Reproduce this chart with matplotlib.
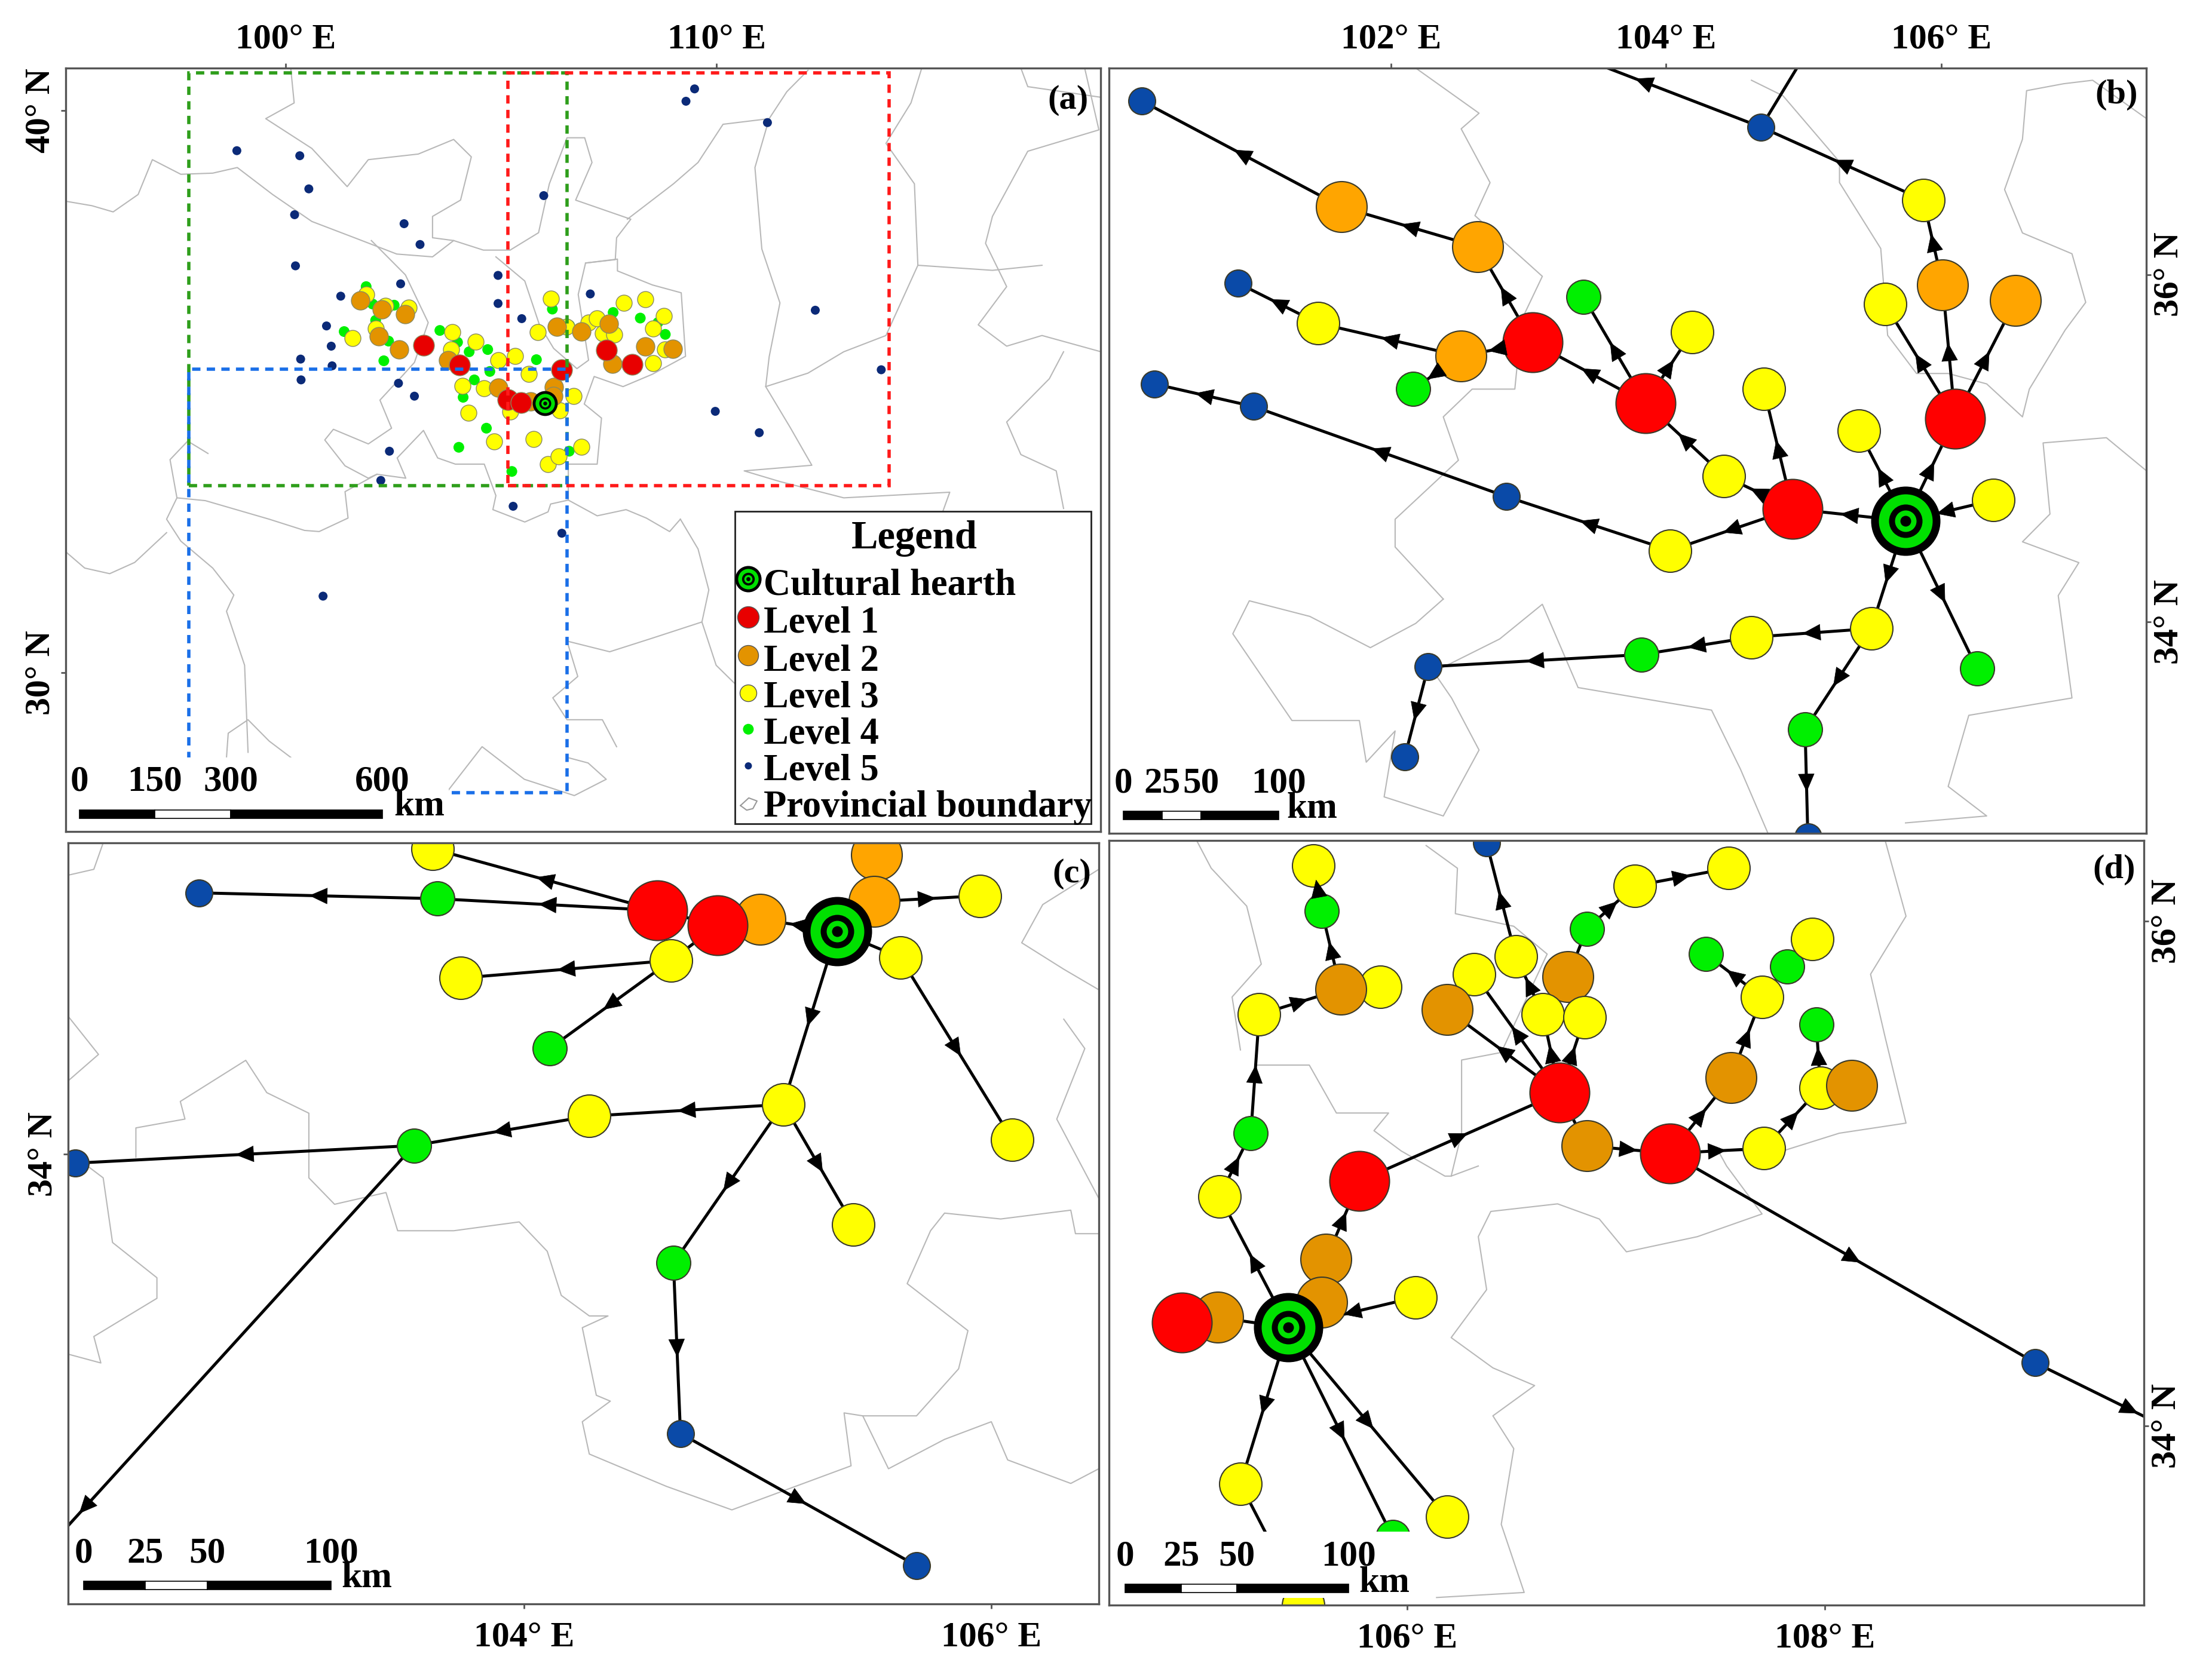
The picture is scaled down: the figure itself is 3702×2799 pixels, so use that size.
import matplotlib
matplotlib.use("Agg")
import matplotlib.pyplot as plt
import numpy as np
from matplotlib.patches import Rectangle, FancyArrowPatch
from matplotlib.transforms import IdentityTransform

plt.rcParams['font.family'] = ['Liberation Serif', 'DejaVu Serif']
plt.rcParams['font.weight'] = 'bold'

W, H = 3702, 2799

# ---- panel (a) sites, by level
a_hearth = (106.02, 34.79)
a_l1_lon = [103.20, 104.04, 106.40, 105.16, 105.47, 107.45, 108.04]
a_l1_lat = [35.83, 35.48, 35.39, 34.86, 34.81, 35.74, 35.49]
a_l2_lon = [101.73, 102.23, 102.77, 102.16, 102.64, 103.77, 104.93, 106.22, 106.21, 105.68, 106.29, 106.86, 107.50, 108.35, 107.59, 108.99]
a_l2_lat = [36.62, 36.46, 36.38, 35.99, 35.75, 35.56, 35.07, 35.08, 34.92, 34.83, 36.16, 36.07, 36.21, 35.80, 35.50, 35.76]
a_l3_lon = [101.87, 102.32, 102.86, 102.09, 101.56, 103.87, 103.84, 104.41, 104.93, 105.33, 105.65, 104.10, 104.61, 104.24, 105.21, 106.36, 106.69, 104.84, 105.76, 106.09, 106.34, 106.86, 106.15, 105.85, 106.52, 107.03, 107.22, 107.36, 107.63, 107.85, 108.35, 108.78, 108.52, 108.81, 108.53]
a_l3_lat = [36.73, 36.53, 36.50, 36.12, 35.95, 36.06, 35.75, 35.89, 35.56, 35.63, 35.32, 35.10, 35.06, 34.62, 34.65, 34.67, 34.92, 34.11, 34.16, 33.71, 33.85, 34.02, 36.66, 36.06, 36.16, 36.23, 36.30, 36.04, 36.02, 36.58, 36.65, 36.35, 36.12, 35.75, 35.51]
a_l4_lon = [101.87, 102.02, 102.52, 102.09, 101.36, 102.39, 102.28, 103.58, 103.99, 104.26, 104.69, 105.82, 104.74, 104.38, 104.12, 104.66, 104.02, 105.25, 106.58, 106.19, 106.59, 107.60, 108.23, 108.64, 108.81]
a_l4_lat = [36.87, 36.56, 36.54, 36.27, 36.07, 35.90, 35.55, 36.09, 35.88, 35.71, 35.75, 35.57, 35.36, 35.21, 34.90, 34.35, 34.01, 33.58, 33.94, 36.47, 36.18, 36.41, 36.31, 36.23, 36.02]
a_l5_lon = [103.12, 102.67, 101.28, 100.95, 101.06, 100.35, 101.08, 100.36, 102.62, 102.99, 104.93, 104.93, 105.48, 107.07, 109.97, 102.41, 102.21, 105.28, 106.41, 109.49, 109.29, 111.18, 105.99, 98.87, 100.33, 100.54, 100.21, 102.75, 100.23, 112.29, 113.82, 110.99, 100.87]
a_l5_lat = [37.62, 36.92, 36.70, 36.17, 35.81, 35.58, 35.46, 35.21, 35.15, 34.92, 37.07, 36.57, 36.30, 36.74, 34.65, 33.94, 33.42, 32.96, 32.48, 40.39, 40.17, 39.79, 38.49, 39.29, 39.20, 38.61, 38.15, 37.99, 37.24, 36.45, 35.39, 34.27, 31.36]

# extents of panels b, c, d drawn on panel (a): lon0, lon1, lat0, lat1
extent_green = (97.75, 106.53, 33.33, 40.67)
extent_red = (105.16, 114.00, 33.33, 40.67)
extent_blue = (97.75, 106.53, 27.86, 35.40)

# ---- panel (b) network; level 0 is the hearth
b_lon = [104.42, 104.92, 104.03, 106.10, 105.40, 104.71, 103.85, 103.03, 106.54, 106.01, 102.51, 102.63, 101.64, 106.38, 104.19, 105.59, 105.87, 101.47, 105.49, 104.62, 103.40, 102.16, 106.26, 103.82, 105.01, 100.19, 104.69, 100.89, 100.28, 101.00, 102.84, 102.27, 102.10, 105.03, 102.79, 105.21, 105.74]
b_lat = [34.84, 34.65, 34.41, 35.17, 35.10, 35.34, 35.26, 35.61, 35.85, 35.94, 35.53, 36.16, 36.39, 34.70, 35.67, 35.83, 36.43, 35.72, 33.96, 33.91, 35.87, 35.34, 33.73, 33.81, 33.38, 37.00, 36.85, 35.95, 35.37, 35.24, 34.72, 33.74, 33.22, 32.76, 37.43, 37.53, 34.58]
b_level = [3, 1, 3, 1, 3, 3, 1, 1, 2, 2, 2, 2, 2, 3, 3, 3, 3, 3, 3, 3, 4, 4, 4, 4, 4, 5, 5, 5, 5, 5, 5, 5, 5, 5, 5, 5, 0]
b_edges = [(36, 1), (36, 4), (36, 3), (13, 36, 0.55), (36, 18), (36, 22), (1, 5), (1, 0), (1, 2), (0, 6), (3, 15), (3, 9), (3, 8), (9, 16), (16, 26), (26, 34, 0.45), (6, 20), (6, 14), (6, 7), (7, 10), (7, 11), (11, 12), (12, 25), (10, 17), (17, 27), (10, 21, 0.55), (2, 30), (30, 29), (29, 28), (18, 19), (19, 23), (23, 31), (31, 32), (18, 24), (24, 33), (26, 35, None)]

# ---- panel (c) network
c_lon = [105.51, 105.50, 105.01, 104.57, 104.83, 104.63, 103.61, 105.95, 105.61, 103.73, 105.11, 104.28, 106.09, 105.41, 103.63, 104.11, 103.53, 104.64, 102.61, 102.08, 104.67, 105.68, 101.94, 105.34]
c_lat = [35.02, 34.86, 34.80, 34.83, 34.78, 34.66, 35.04, 34.88, 34.67, 34.60, 34.17, 34.13, 34.05, 33.76, 34.87, 34.36, 34.03, 33.63, 34.89, 33.97, 33.05, 32.60, 32.64, 34.76]
c_level = [2, 2, 2, 1, 1, 3, 3, 3, 3, 3, 3, 3, 3, 3, 4, 4, 4, 4, 5, 5, 5, 5, 5, 0]
c_edges = [(3, 6), (3, 14), (14, 18), (23, 2, 0.5), (2, 4, None), (4, 3, None), (5, 9), (5, 15), (4, 5, None), (23, 1, None), (1, 7), (1, 0, None), (23, 8, None), (8, 12), (23, 10), (10, 11), (11, 16), (16, 19), (16, 22, 0.885), (10, 13), (10, 17), (17, 20), (20, 21)]

# ---- panel (d) network
d_lon = [105.50, 105.87, 105.68, 105.09, 104.92, 105.61, 105.59, 105.77, 106.77, 106.52, 106.32, 106.19, 106.65, 106.85, 106.86, 106.73, 107.26, 107.55, 107.98, 108.13, 107.82, 105.55, 105.29, 105.10, 106.04, 105.20, 106.19, 107.09, 107.54, 107.71, 107.70, 107.94, 105.59, 105.25, 106.86, 107.43, 107.96, 105.93, 106.38, 109.01, 109.82, 105.43]
d_lat = [33.29, 35.74, 35.73, 34.43, 34.41, 34.66, 34.49, 34.97, 35.78, 35.86, 35.79, 35.65, 35.63, 35.62, 35.11, 35.32, 35.08, 35.38, 35.34, 35.35, 35.82, 36.22, 35.63, 34.91, 34.51, 33.77, 33.64, 36.14, 36.21, 35.10, 35.70, 35.93, 36.04, 35.16, 35.97, 35.87, 35.59, 33.56, 36.31, 34.25, 33.92, 34.39]
d_level = [3, 3, 2, 2, 1, 2, 2, 1, 2, 3, 3, 2, 3, 3, 2, 1, 1, 2, 3, 2, 4, 3, 3, 3, 3, 3, 3, 3, 3, 3, 3, 3, 4, 4, 4, 4, 4, 4, 5, 5, 5, 0]
d_edges = [(41, 23), (23, 33), (33, 22), (22, 2), (2, 32), (32, 21), (41, 6, None), (6, 5, None), (5, 7), (7, 15), (15, 11), (15, 10), (15, 12), (15, 13), (12, 9), (9, 38), (13, 8, None), (8, 34, None), (34, 27), (27, 28), (15, 14, None), (14, 16), (16, 29), (16, 17), (17, 30), (30, 35), (30, 20, None), (20, 31, None), (29, 18), (18, 36), (16, 39), (39, 40, 0.56), (24, 41), (41, 25), (41, 37), (41, 26), (25, 0), (41, 3, None), (3, 4, None)]

# ---- provincial boundaries, (lon, lat) polylines traced per panel
a_bounds = [
    [(94.90, 38.39), (95.51, 38.31), (96.00, 38.20), (96.58, 38.51), (96.91, 39.13), (97.57, 38.87), (98.31, 38.89), (98.88, 38.99), (99.70, 38.51), (100.61, 38.03), (101.60, 37.74), (102.58, 37.45), (103.41, 37.40), (103.90, 37.69), (104.59, 37.52), (105.21, 37.52), (105.87, 37.83), (106.12, 38.70), (106.53, 39.52), (106.94, 39.52), (107.11, 39.08), (106.73, 38.41), (108.01, 38.07), (107.68, 37.74), (107.65, 37.35), (106.96, 37.29)],
    [(100.12, 40.76), (100.20, 40.14), (99.54, 39.86), (100.61, 39.33), (101.43, 38.65), (101.92, 39.13), (103.08, 39.23), (103.90, 39.49), (104.31, 39.18), (104.06, 38.41), (103.41, 38.12), (103.41, 37.74), (103.90, 37.69)],
    [(101.99, 37.69), (102.78, 37.08), (103.31, 36.23), (102.99, 35.52), (102.66, 35.24), (102.19, 34.85), (102.46, 34.35), (101.92, 34.07), (101.11, 34.33), (100.91, 34.14), (101.38, 33.68), (101.92, 33.46), (102.12, 33.53), (102.79, 33.46), (102.59, 33.82), (103.20, 34.31), (103.53, 33.82), (103.94, 33.71), (104.61, 33.71), (104.88, 33.15), (104.81, 32.90), (105.55, 32.68), (106.09, 32.86), (106.15, 33.00), (106.56, 33.07), (107.23, 32.79), (107.90, 32.90), (108.37, 32.75), (108.91, 32.51), (109.16, 32.73)],
    [(104.88, 37.40), (105.55, 36.97), (105.89, 36.19), (106.22, 35.77), (106.76, 35.41), (107.03, 35.56), (106.79, 36.73), (106.96, 37.29), (107.70, 37.36), (107.70, 37.15), (108.51, 36.90), (109.18, 36.76), (109.28, 35.63), (108.51, 35.31), (107.83, 35.09), (107.16, 35.27), (106.93, 34.78), (107.33, 34.53), (107.23, 33.71), (106.56, 33.71), (106.56, 33.07)],
    [(102.12, 33.53), (101.38, 33.22), (101.45, 32.75), (100.78, 32.51), (100.44, 32.53), (99.62, 32.73), (98.14, 33.06), (97.48, 33.11), (97.32, 33.79), (97.73, 34.12), (98.20, 33.90)],
    [(97.48, 33.11), (97.24, 32.73), (97.57, 32.34), (98.31, 31.86), (98.80, 31.38), (98.63, 31.09), (99.05, 30.13), (99.13, 28.58)],
    [(94.90, 32.15), (95.34, 31.86), (95.92, 31.76), (96.50, 31.96), (97.24, 32.49)],
    [(107.93, 38.07), (109.00, 38.70), (109.57, 39.08), (110.15, 39.76), (111.22, 39.86), (111.63, 40.34), (112.12, 40.72)],
    [(111.22, 39.86), (110.89, 38.99), (111.05, 37.54), (111.47, 36.58), (111.22, 35.62), (111.14, 35.09), (112.12, 35.33), (112.95, 35.71), (113.93, 36.00), (114.67, 37.25), (114.59, 38.70), (113.93, 39.42), (114.51, 40.14), (114.76, 40.76)],
    [(111.14, 35.09), (111.71, 34.36), (112.21, 33.69), (110.64, 33.59), (111.47, 33.40), (112.95, 33.11), (115.41, 33.21), (115.25, 32.87)],
    [(114.67, 37.25), (116.40, 37.16), (117.55, 37.25)],
    [(118.54, 40.76), (118.87, 39.66), (117.22, 39.28), (116.40, 38.12), (116.24, 37.64), (116.73, 36.87), (116.07, 36.19), (116.73, 35.81), (117.55, 36.00), (118.92, 35.71)],
    [(117.06, 40.76), (117.22, 40.43), (118.92, 40.24)],
    [(118.05, 35.71), (117.72, 35.23), (116.73, 34.46), (117.06, 33.88), (117.88, 33.59), (118.05, 32.92)],
    [(106.53, 30.56), (107.52, 30.37), (108.50, 30.61), (109.66, 30.90), (109.99, 30.13), (110.64, 29.64)],
    [(109.66, 30.90), (109.82, 31.47), (109.57, 32.20), (109.16, 32.73)],
    [(106.53, 30.56), (106.78, 29.93), (106.20, 29.55), (106.53, 29.16), (107.35, 29.16), (107.68, 28.68)],
    [(103.73, 27.86), (104.56, 28.68), (105.54, 28.10), (106.70, 27.81), (107.44, 28.10), (107.02, 28.39), (106.53, 28.49)],
    [(98.63, 28.49), (98.67, 28.92), (99.13, 29.16), (99.62, 28.78), (100.12, 28.49)],
]

b_bounds = [
    [(102.18, 37.19), (102.64, 36.93), (102.51, 36.84), (102.72, 36.53), (102.61, 36.34), (103.10, 35.99), (102.95, 35.74), (102.90, 35.34), (102.59, 35.34), (102.38, 35.18), (102.49, 34.93), (102.03, 34.59), (102.03, 34.43), (102.38, 34.13)],
    [(102.38, 34.13), (102.18, 33.99), (101.85, 33.85), (101.41, 34.03), (100.97, 34.12), (100.85, 33.93), (101.28, 33.43), (101.77, 33.43), (101.82, 33.19), (102.03, 33.37), (101.95, 32.99), (102.38, 32.88), (102.64, 33.26), (102.44, 33.56), (102.31, 33.71), (102.79, 33.90), (103.10, 34.10), (103.36, 33.62), (104.03, 33.53), (104.33, 33.49), (104.54, 33.15), (104.74, 32.78)],
    [(104.62, 37.12), (104.85, 37.03), (105.26, 36.65), (105.26, 36.53), (105.56, 36.15), (105.61, 35.65), (105.82, 35.43), (106.05, 35.43), (106.33, 35.37), (106.59, 35.18), (106.64, 35.34), (106.90, 35.68), (107.05, 35.84), (106.95, 36.12), (106.59, 36.24), (106.46, 36.49), (106.59, 36.78), (106.62, 37.06), (106.89, 37.10), (107.10, 37.12), (107.49, 36.90)],
    [(107.49, 34.87), (107.20, 35.06), (106.74, 35.03), (106.79, 34.62), (106.59, 34.46), (107.00, 34.34), (106.85, 34.15), (106.95, 33.56), (106.20, 33.46), (106.05, 33.05), (106.33, 32.88), (105.74, 32.84)],
]

c_bounds = [
    [(102.20, 35.06), (102.16, 34.97), (102.05, 34.95)],
    [(102.05, 34.47), (102.18, 34.34), (102.05, 34.25)],
    [(102.10, 33.98), (102.20, 33.92), (102.24, 33.70), (102.43, 33.58), (102.43, 33.51), (102.16, 33.38), (102.19, 33.29), (102.05, 33.32)],
    [(102.34, 33.99), (102.34, 34.09), (102.55, 34.12), (102.53, 34.18), (102.81, 34.32), (102.90, 34.21), (103.08, 34.14), (103.08, 33.92), (103.19, 33.83), (103.41, 33.87), (103.46, 33.74), (103.70, 33.74), (103.98, 33.77), (104.10, 33.67), (104.16, 33.52), (104.28, 33.45), (104.36, 33.45), (104.25, 33.41), (104.31, 33.18), (104.37, 33.16), (104.25, 33.09), (104.28, 32.98), (104.61, 32.87), (104.89, 32.79), (105.40, 32.94), (105.37, 33.12), (105.45, 33.11), (105.56, 32.93), (105.80, 33.03), (106.00, 33.09), (106.07, 32.96), (106.34, 32.88), (106.46, 32.93)],
    [(105.45, 33.11), (105.68, 33.11), (105.86, 33.27), (105.90, 33.40), (105.64, 33.56), (105.74, 33.74), (105.80, 33.80), (106.04, 33.78), (106.34, 33.81), (106.36, 33.73), (106.46, 33.73)],
    [(106.46, 34.97), (106.22, 34.85), (106.13, 34.72), (106.31, 34.63), (106.46, 34.56)],
    [(106.31, 34.46), (106.40, 34.36), (106.28, 34.12), (106.46, 33.85)],
]

d_bounds = [
    [(104.99, 36.32), (105.06, 36.21), (105.23, 36.06), (105.30, 35.83), (105.16, 35.70), (105.20, 35.49)],
    [(105.28, 35.43), (105.53, 35.43), (105.66, 35.24), (105.91, 35.24), (105.84, 35.17), (105.97, 35.09), (106.18, 34.99), (106.21, 34.99)],
    [(106.09, 36.30), (106.24, 36.21), (106.23, 36.03), (106.51, 35.98), (106.67, 35.87), (106.45, 35.48), (106.26, 35.45), (106.26, 35.16), (106.21, 34.99), (106.34, 35.03)],
    [(108.29, 36.32), (108.39, 36.02), (108.22, 35.79), (108.29, 35.54), (108.39, 35.20), (108.07, 35.16), (107.80, 35.09), (107.49, 35.09), (107.53, 35.03), (107.70, 34.84), (107.39, 34.75), (107.05, 34.69), (106.92, 34.82), (106.72, 34.88), (106.40, 34.85), (106.34, 34.75), (106.38, 34.54), (106.21, 34.35), (106.41, 34.23), (106.61, 34.16), (106.41, 34.04), (106.51, 33.91), (106.45, 33.61), (106.56, 33.34), (106.14, 33.32)],
]

# marker diameters in pixels, big network panels and the overview panel
big_size = {1: 100, 2: 85, 3: 71, 4: 57, 5: 45}
small_size = {1: 35, 2: 31, 3: 27, 4: 18, 5: 15}
level_color = {1: '#FF0000', 3: '#FFFF00', 4: '#00F000'}
EDGE = '#3A3A2A'
FRAME = '#555555'
SIZE_LABEL = 43


def area(px):
    return (px * 0.72) ** 2


def make_axes(left, right, top, bottom, xlim, ylim):
    ax = fig.add_axes([left / W, 1 - bottom / H, (right - left) / W, (bottom - top) / H])
    ax.set_xlim(*xlim)
    ax.set_ylim(*ylim)
    for s in ax.spines.values():
        s.set_color(FRAME)
        s.set_linewidth(2.4)
        s.set_zorder(20)
    return ax


def set_ticks(ax, xticks, yticks, xside, yside):
    ax.set_xticks(xticks)
    ax.set_xticklabels([f"{v}° E" for v in xticks])
    ax.set_yticks(yticks)
    ax.set_yticklabels([f"{v}° N" for v in yticks], rotation=90, va='center')
    ax.tick_params(axis='x', top=xside == 'top', labeltop=xside == 'top', bottom=xside == 'bottom',
                   labelbottom=xside == 'bottom', length=6, width=2, color=FRAME,
                   pad=8 if xside == 'top' else 16, labelsize=SIZE_LABEL)
    ax.tick_params(axis='y', left=yside == 'left', labelleft=yside == 'left', right=yside == 'right',
                   labelright=yside == 'right', length=6, width=2, color=FRAME,
                   pad=4 if yside == 'left' else 3, labelsize=SIZE_LABEL)


def draw_bounds(ax, bounds):
    for line in bounds:
        ax.plot([p[0] for p in line], [p[1] for p in line], color='#B8B8B8', lw=1.5, zorder=1)


def draw_hearth(ax, x, y, scale=1.0, transform=None, z=3.5):
    kw = {'transform': transform} if transform is not None else {}
    for d, col in zip([116, 90, 56, 36, 18], ['black', '#00E000', 'black', '#00E000', 'black']):
        ax.scatter([x], [y], s=area(d * scale), c=col, linewidths=0, zorder=z, **kw)


def draw_network(ax, lon, lat, level, edges, orange):
    for e in edges:
        x = [lon[e[0]], lon[e[1]]]
        y = [lat[e[0]], lat[e[1]]]
        ax.plot(x, y, color='black', lw=3.6, zorder=2, solid_capstyle='butt')
        t = e[2] if len(e) > 2 else 0.5
        if t is None:
            continue
        # head is centred on the point, so work in screen space
        p0 = ax.transData.transform((x[0], y[0]))
        p1 = ax.transData.transform((x[1], y[1]))
        u = (p1 - p0) / np.hypot(*(p1 - p0))
        centre = p0 + t * (p1 - p0)
        ax.add_patch(FancyArrowPatch(tuple(centre + 13 * u), tuple(centre + 15 * u),
                                     arrowstyle='-|>,head_length=0.42,head_width=0.19',
                                     mutation_scale=50, color='black', lw=0.5, shrinkA=0, shrinkB=0,
                                     zorder=4, transform=IdentityTransform()))
    colors = dict(level_color)
    colors[2] = orange
    colors[5] = '#0A4AA8'
    for x, y, lev in zip(lon, lat, level):
        if lev == 0:
            draw_hearth(ax, x, y)
        else:
            ax.scatter([x], [y], s=area(big_size[lev]), c=colors[lev], edgecolors=EDGE, linewidths=1.5, zorder=3)


def scale_bar(ax, ticks, x0, width, y, label_y, km_x, km_y, box_w, box_h, box_y=0.0):
    ax.add_patch(Rectangle((0.002, box_y), box_w, box_h, transform=ax.transAxes, fc='white', ec='none', zorder=5))
    end = ticks[-1]
    pos = [x0 + width * v / end for v in ticks]
    th = 0.011
    for i in range(len(ticks) - 1):
        col = 'white' if i == 1 else 'black'
        ax.add_patch(Rectangle((pos[i], y - th / 2), pos[i + 1] - pos[i], th, transform=ax.transAxes,
                               fc=col, ec='black', lw=1.2, zorder=6))
    for p, v in zip(pos, ticks):
        ax.text(p, label_y, str(v), transform=ax.transAxes, ha='center', va='center', fontsize=44, zorder=7)
    ax.text(km_x, km_y, 'km', transform=ax.transAxes, ha='center', va='center', fontsize=44, zorder=7)


def panel_label(ax, text, x, y):
    ax.text(x, y, text, transform=ax.transAxes, ha='center', va='center', fontsize=42, zorder=8)


fig = plt.figure(figsize=(W / 100, H / 100), dpi=100, facecolor='white')

# ---- panel (a)
ax_a = make_axes(110, 1842, 114, 1392, (94.90, 118.91), (27.17, 40.76))
set_ticks(ax_a, [100, 110], [30, 40], 'top', 'left')
draw_bounds(ax_a, a_bounds)
for ext, col in [(extent_green, '#2E9E1B'), (extent_blue, '#1A6FE8'), (extent_red, '#FF1A1A')]:
    ax_a.add_patch(Rectangle((ext[0], ext[2]), ext[1] - ext[0], ext[3] - ext[2], fc='none', ec=col,
                             lw=4.0, ls=(0, (2.5, 1.9)), zorder=4))
a_levels = [(5, a_l5_lon, a_l5_lat, '#0B2A78'), (4, a_l4_lon, a_l4_lat, '#00F000'), (3, a_l3_lon, a_l3_lat, '#FFFF00'),
            (2, a_l2_lon, a_l2_lat, '#E39300'), (1, a_l1_lon, a_l1_lat, '#E80000')]
for lev, lons, lats, col in a_levels:
    edge = 'none' if lev >= 4 else '#8A8A60'
    ax_a.scatter(lons, lats, s=area(small_size[lev]), c=col, edgecolors=edge, linewidths=1, zorder=3)
draw_hearth(ax_a, a_hearth[0], a_hearth[1], scale=0.36)
scale_bar(ax_a, [0, 150, 300, 600], 0.013, 0.293, 0.0227, 0.065, 0.342, 0.033, 0.368, 0.097)
panel_label(ax_a, '(a)', 0.9685, 0.958)

# legend of panel (a)
ax_a.add_patch(Rectangle((0.6466, 0.0099), 0.3444, 0.4097, transform=ax_a.transAxes, fc='white', ec='#222222', lw=2, zorder=9))
ax_a.text(0.82, 0.3837, 'Legend', transform=ax_a.transAxes, ha='center', va='center', fontsize=48, zorder=10)
legend_names = ['Cultural hearth', 'Level 1', 'Level 2', 'Level 3', 'Level 4', 'Level 5', 'Provincial boundary']
legend_y = [0.322, 0.2725, 0.2225, 0.1746, 0.127, 0.079, 0.031]
for name, y in zip(legend_names, legend_y):
    ax_a.text(0.6745, y, name, transform=ax_a.transAxes, ha='left', va='center', fontsize=45, zorder=10)
marker_y = [0.281, 0.231, 0.1816, 0.134, 0.086]
marker_size = [36, 34, 28, 18, 12]
marker_color = ['#E80000', '#E39300', '#FFFF00', '#00F000', '#0B2A78']
for y, d, col in zip(marker_y, marker_size, marker_color):
    ax_a.scatter([0.6596], [y], s=area(d), c=col, edgecolors='#555555' if d > 20 else 'none', linewidths=1,
                 transform=ax_a.transAxes, zorder=10)
draw_hearth(ax_a, 0.6596, 0.331, scale=0.38, transform=ax_a.transAxes, z=10)
ax_a.plot([0.652, 0.660, 0.668, 0.664, 0.658, 0.652], [0.034, 0.044, 0.040, 0.030, 0.028, 0.034], color='#999999', lw=1.5,
          transform=ax_a.transAxes, zorder=10)

# ---- panel (b)
ax_b = make_axes(1856, 3592, 114, 1395, (99.95, 107.49), (32.78, 37.19))
set_ticks(ax_b, [102, 104, 106], [34, 36], 'top', 'right')
draw_bounds(ax_b, b_bounds)
draw_network(ax_b, b_lon, b_lat, b_level, b_edges, '#FFA500')
scale_bar(ax_b, [0, 25, 50, 100], 0.0136, 0.15, 0.0233, 0.065, 0.196, 0.032, 0.22, 0.09)
panel_label(ax_b, '(b)', 0.971, 0.965)

# ---- panel (c)
ax_c = make_axes(114, 1839, 1411, 2685, (102.05, 106.46), (32.47, 35.06))
set_ticks(ax_c, [104, 106], [34], 'bottom', 'left')
draw_bounds(ax_c, c_bounds)
draw_network(ax_c, c_lon, c_lat, c_level, c_edges, '#FFA500')
scale_bar(ax_c, [0, 25, 50, 100], 0.015, 0.24, 0.0245, 0.0665, 0.29, 0.034, 0.32, 0.098)
panel_label(ax_c, '(c)', 0.974, 0.959)

# ---- panel (d)
ax_d = make_axes(1856, 3588, 1407, 2687, (104.57, 109.53), (33.29, 36.32))
set_ticks(ax_d, [106, 108], [34, 36], 'bottom', 'right')
draw_bounds(ax_d, d_bounds)
draw_network(ax_d, d_lon, d_lat, d_level, d_edges, '#E39300')
scale_bar(ax_d, [0, 25, 50, 100], 0.0157, 0.216, 0.0216, 0.0634, 0.266, 0.0286, 0.29, 0.087, 0.009)
panel_label(ax_d, '(d)', 0.971, 0.9617)

fig.savefig('out.png', dpi=100, facecolor='white')
